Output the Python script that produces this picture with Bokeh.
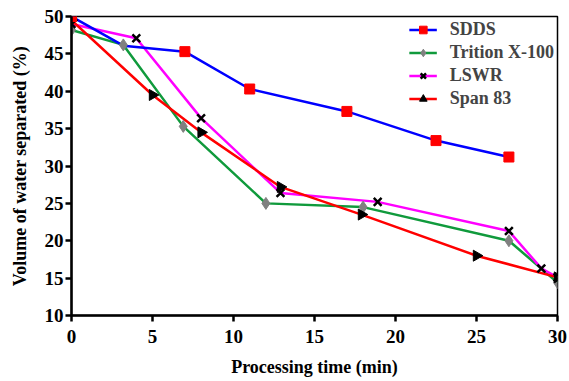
import numpy as np
from bokeh.plotting import figure
from bokeh.models import Range1d, FixedTicker, Legend, ColumnDataSource, CDSView, IndexFilter
from bokeh.embed import file_html
from bokeh.resources import INLINE

sdds_x = [0, 3.2, 7, 11, 17, 22.5, 27]
sdds_y = [50, 46.1, 45.3, 40.3, 37.3, 33.4, 31.2]
sdds_marked = [0, 2, 3, 4, 5, 6]   # indices shown with a square marker

trit_x = [0, 3.2, 6.9, 12, 18, 27, 30]
trit_y = [48.2, 46.2, 35.3, 25.0, 24.5, 20.0, 14.4]

lswr_x = [0, 4, 8, 12.9, 18.9, 27, 29, 30]
lswr_y = [49.0, 47.1, 36.4, 26.4, 25.2, 21.3, 16.3, 15.1]

span_x = [0, 5, 8, 12.9, 17.9, 25, 30]
span_y = [49.5, 39.5, 34.5, 27.2, 23.5, 18.0, 15.1]

x_ticks = [0, 5, 10, 15, 20, 25, 30]
y_ticks = [10, 15, 20, 25, 30, 35, 40, 45, 50]

FONT = "Liberation Serif"

p = figure(width=567, height=380, output_backend="svg", toolbar_location=None,
           x_range=Range1d(0, 30), y_range=Range1d(10, 50),
           min_border_left=71, min_border_top=16, min_border_right=10, min_border_bottom=65)
p.grid.visible = False
p.outline_line_color = "black"
p.outline_line_width = 1.5

for ax, ticks in ((p.xaxis, x_ticks), (p.yaxis, y_ticks)):
    ax.ticker = FixedTicker(ticks=ticks)
    ax.minor_tick_line_color = None
    ax.axis_line_width = 2.5
    ax.major_tick_line_width = 2.5
    ax.major_tick_out = 6
    ax.major_tick_in = 0
    ax.major_label_text_font = FONT
    ax.major_label_text_font_style = "bold"
    ax.major_label_text_font_size = "19px"
    ax.major_label_text_color = "black"
    ax.axis_label_text_font = FONT
    ax.axis_label_text_font_style = "bold"
    ax.axis_label_text_font_size = "18px"
    ax.axis_label_text_color = "black"

p.xaxis.axis_label = "Processing time (min)"
p.yaxis.axis_label = "Volume of water separated (%)"
p.xaxis.major_label_standoff = 8
p.yaxis.major_label_standoff = 2
p.xaxis.axis_label_standoff = 11
p.yaxis.axis_label_standoff = 12

sdds_src = ColumnDataSource(dict(x=sdds_x, y=sdds_y))

r_l2 = p.line(trit_x, trit_y, color="#109a3c", line_width=2.5)
r_l3 = p.line(lswr_x, lswr_y, color="#ff00ff", line_width=2.5)
r_l4 = p.line(span_x, span_y, color="#ff0000", line_width=2.5)
r_l1 = p.line("x", "y", source=sdds_src, color="#0000ff", line_width=2.5)

r_m2 = p.scatter(trit_x, trit_y, marker="diamond", size=12, color="#808080")
r_m3 = p.scatter(lswr_x, lswr_y, marker="x", size=11, line_color="black", line_width=2.5)
r_m4 = p.scatter(span_x, span_y, marker="triangle", size=11, color="black", angle=-np.pi / 2)
r_m1 = p.scatter("x", "y", source=sdds_src, view=CDSView(filter=IndexFilter(sdds_marked)),
                 marker="square", size=10, color="#ff0000")

legend = Legend(items=[
    ("SDDS", [r_l1, r_m1]),
    ("Trition X-100", [r_l2, r_m2]),
    ("LSWR", [r_l3, r_m3]),
    ("Span 83", [r_l4, r_m4]),
], location="top_right")
legend.border_line_color = None
legend.background_fill_alpha = 0
legend.label_text_font = FONT
legend.label_text_font_style = "bold"
legend.label_text_font_size = "18px"
legend.label_height = 19
legend.glyph_height = 19
legend.glyph_width = 28
legend.spacing = 2
legend.padding = 1
legend.margin = 3
legend.label_standoff = 13
p.add_layout(legend)

open("out.html", "w").write(file_html(p, INLINE))
